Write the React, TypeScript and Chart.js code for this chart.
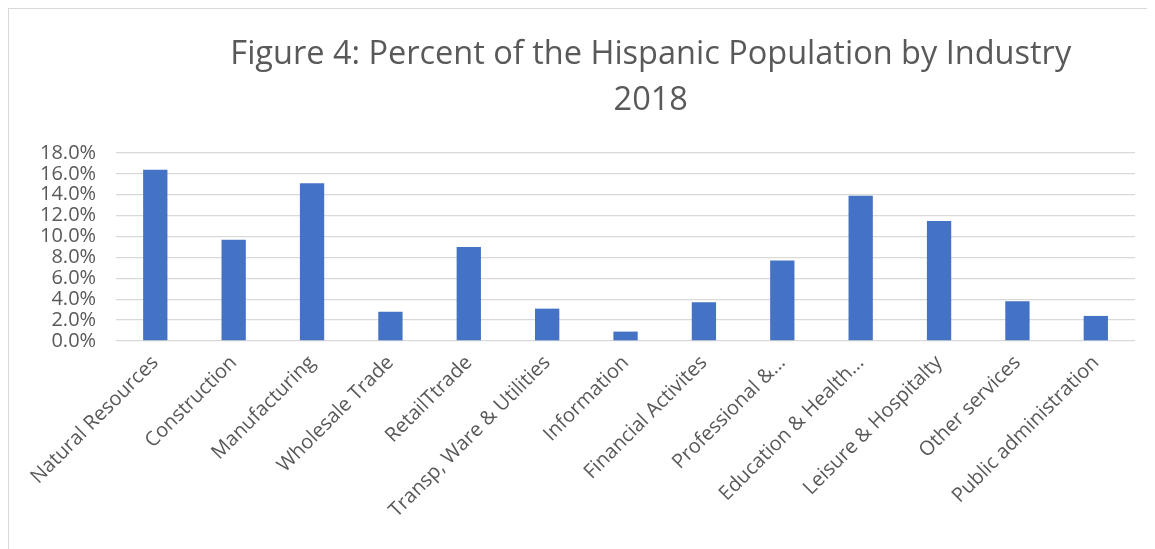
import React, { useEffect, useRef } from "react";
import { Chart, registerables } from "chart.js";

Chart.register(...registerables);

const categories = [
  "Natural Resources",
  "Construction",
  "Manufacturing",
  "Wholesale Trade",
  "RetailTtrade",
  "Transp, Ware & Utilities",
  "Information",
  "Financial Activites",
  "Professional &...",
  "Education & Health...",
  "Leisure & Hospitalty",
  "Other services",
  "Public administration",
];

const percentValues = [16.4, 9.7, 15.1, 2.8, 9.0, 3.1, 0.9, 3.7, 7.7, 13.9, 11.5, 3.8, 2.4];

const titleLines = ["Figure 4: Percent of the Hispanic Population by Industry", "2018"];

const yMin = 0;
const yMax = 18;
const yStep = 2;

const FONT = "'Open Sans', 'Noto Sans', sans-serif";
const TEXT_GREY = "#595959";

const titlePlugin = {
  id: "excelTitle",
  afterDraw(chart: any) {
    const ctx = chart.ctx;
    ctx.save();
    ctx.fillStyle = TEXT_GREY;
    ctx.font = `32.5px ${FONT}`;
    ctx.textAlign = "center";
    ctx.textBaseline = "middle";
    const cx = chart.width * 0.56;
    titleLines.forEach((line, i) => {
      ctx.fillText(line, cx, 46 + i * 46);
    });
    ctx.restore();
  },
};

export default function App() {
  const canvasRef = useRef<HTMLCanvasElement | null>(null);

  useEffect(() => {
    document.body.style.overflow = "hidden";
    const canvas = canvasRef.current;
    if (!canvas) return;
    const chart = new Chart(canvas, {
      type: "bar",
      data: {
        labels: categories,
        datasets: [
          {
            label: "Percent",
            data: percentValues,
            backgroundColor: "#4472C4",
            borderWidth: 0,
            barPercentage: 0.31,
            categoryPercentage: 1,
          },
        ],
      },
      options: {
        animation: false,
        responsive: true,
        maintainAspectRatio: false,
        layout: { padding: { top: 144, right: 20, bottom: 20, left: 11 } },
        plugins: {
          legend: { display: false },
          title: { display: false },
          tooltip: { enabled: false },
        },
        scales: {
          x: {
            grid: { display: false, drawTicks: false },
            border: { display: false },
            ticks: {
              color: TEXT_GREY,
              font: { family: FONT, size: 20 },
              maxRotation: 45,
              minRotation: 45,
              autoSkip: false,
              padding: 10,
            },
          },
          y: {
            min: yMin,
            max: yMax,
            grid: { color: "#d9d9d9", lineWidth: 1.3, drawTicks: false },
            border: { display: false },
            ticks: {
              stepSize: yStep,
              autoSkip: false,
              color: TEXT_GREY,
              font: { family: FONT, size: 20 },
              padding: 20,
              callback: (v: any) => Number(v).toFixed(1) + "%",
            },
          },
        },
      },
      plugins: [titlePlugin],
    });
    return () => chart.destroy();
  }, []);

  return (
    <div
      style={{
        width: 1147,
        height: 541,
        borderLeft: "1px solid #d9d9d9",
        borderTop: "1px solid #d9d9d9",
        boxSizing: "border-box",
        position: "relative",
        background: "#fff",
      }}
    >
      <canvas ref={canvasRef} />
    </div>
  );
}
